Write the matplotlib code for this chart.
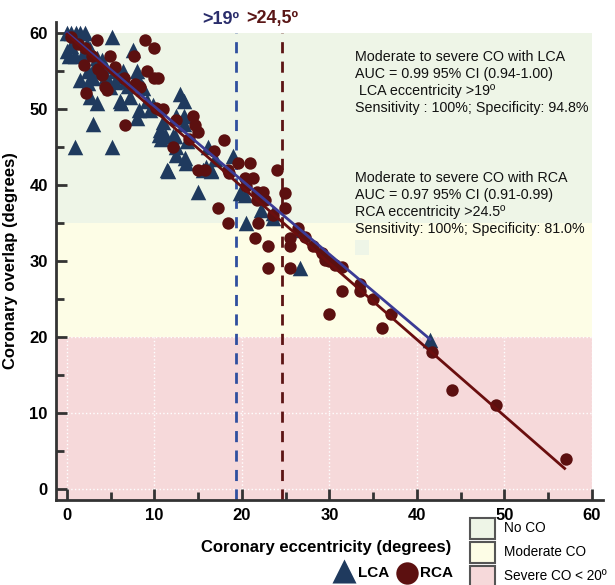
import matplotlib
matplotlib.use("Agg")
import matplotlib.pyplot as plt
from matplotlib.patches import Rectangle

plt.rcParams['font.family'] = ['Liberation Sans', 'DejaVu Sans']

# LCA points (eccentricity, overlap)
lca_x = [0, 0.5, 1.0, 1.5, 2.0, 1.2, 0, 0.4, 0.2, 0.9, 2.3, 2.6, 1.8,
         1.5, 0.9, 3.0, 5.1, 5.1, 7.5, 3.4, 4.0, 4.1, 3.2, 2.4, 3.8, 3.0,
         2.4, 2.6, 3.4, 4.5, 4.9, 5.5, 6.1, 6.4, 6.6, 7.2, 6.1, 8.0, 8.2,
         8.7, 9.1, 8.2, 8.0, 9.5, 10.6, 11.2, 10.5, 10.8, 12.1, 12.5, 13.5,
         13.6, 11.6, 15.0, 16.1, 15.6, 16.5, 16.9, 15.9, 19.0, 19.8, 20.5,
         23.6, 26.6, 26.6, 12.9, 13.4, 12.5, 13.4, 13.4, 12.3, 12.5, 16.5,
         20.3, 22.2, 23.5, 41.5, 11.0, 7.0, 5.5, 9.8, 6.2, 13.7, 11.4]
lca_y = [60, 60, 60, 60, 60, 59.3, 57.6, 58.3, 57.0, 56.9, 58.4, 57.8, 57.2,
         53.8, 45.0, 48.0, 45.0, 59.4, 57.7, 56.7, 56.4, 55.6, 55.6, 54.9, 54.9, 54.0,
         53.4, 51.6, 50.8, 54.3, 52.9, 54.9, 54.3, 54.9, 53.6, 51.6, 51.0, 54.9, 53.6,
         52.7, 51.0, 49.9, 48.8, 49.9, 47.2, 46.6, 46.6, 46.0, 46.4, 45.0, 43.5,
         42.9, 41.8, 39.0, 45.0, 42.0, 42.0, 43.4, 42.4, 43.8, 38.9, 35.0,
         36.3, 34.0, 29.0, 52.0, 51.0, 49.0, 49.0, 48.0, 46.4, 43.9, 41.8,
         38.7, 36.7, 35.6, 19.6, 48.3, 53.0, 53.5, 50.5, 50.8, 45.7, 42.0]

# RCA points (eccentricity, overlap)
rca_x = [0.5, 1.2, 2.0, 2.8, 3.4, 8.9, 10.0, 4.9, 7.6, 1.9, 9.1, 10.0, 10.4,
         2.2, 4.3, 4.6, 6.6, 7.8, 8.3, 10.2, 10.6, 11.0, 4.0, 3.5, 12.1,
         14.4, 14.6, 15.0, 17.9, 15.0, 15.8, 18.4, 19.6, 20.9, 20.3, 21.3,
         20.5, 21.7, 22.4, 21.7, 22.6, 24.0, 24.9, 24.9, 17.3, 18.4, 21.8,
         21.5, 23.0, 23.0, 25.5, 25.5, 25.5, 26.4, 27.2, 28.1, 29.1, 29.5,
         30.0, 30.6, 31.4, 31.4, 30.0, 33.5, 33.5, 35.0, 36.0, 37.0, 41.7,
         44.0, 49.1, 57.1, 16.8, 14.0, 6.5, 5.5, 12.5, 23.5, 18.5]
rca_y = [59.5, 58.5, 58.0, 57.0, 59.1, 59.1, 58.0, 56.9, 56.9, 55.8, 54.9, 54.1, 54.1,
         52.1, 52.9, 52.5, 47.9, 53.2, 52.9, 50.1, 49.8, 50.0, 54.5, 55.2, 45.0,
         49.0, 47.9, 47.0, 45.9, 42.0, 42.0, 42.0, 42.9, 42.9, 40.9, 40.9,
         39.8, 39.1, 39.1, 38.0, 38.0, 42.0, 38.9, 37.0, 37.0, 35.0, 35.0,
         33.0, 31.9, 29.0, 33.0, 31.9, 29.0, 34.3, 33.2, 31.9, 31.0, 30.1,
         30.0, 29.5, 29.2, 26.0, 23.0, 27.0, 26.0, 25.0, 21.2, 23.0, 18.0,
         13.0, 11.0, 4.0, 44.5, 46.0, 54.0, 55.5, 48.5, 36.0, 41.5]

# regression lines (end points)
lca_fit_x = [0, 41.5]
lca_fit_y = [60, 19.7]
rca_fit_x = [0, 56.9]
rca_fit_y = [59.8, 2.7]

# cut-off values
lca_cut = 19.3
rca_cut = 24.6

# overlap bands
band_edges = [-1.45, 20, 35, 60]
band_colors = ['#f6d9da', '#fdfde6', '#eef5e7']
band_names = ['Severe CO < 20º', 'Moderate CO', 'No CO']

lca_text = ["Moderate to severe CO with LCA",
            "AUC = 0.99 95% CI (0.94-1.00)",
            " LCA eccentricity >19º",
            "Sensitivity : 100%; Specificity: 94.8%"]
rca_text = ["Moderate to severe CO with RCA",
            "AUC = 0.97 95% CI (0.91-0.99)",
            "RCA eccentricity >24.5º",
            "Sensitivity: 100%; Specificity: 81.0%"]

tri_color = '#1f3a5e'
dot_color = '#5c1010'

fig = plt.figure(figsize=(6.15, 5.85), dpi=100)
ax = fig.add_axes([0.0911, 0.1453, 0.889, 0.817])
ax.set_xlim(-1.26, 61.26)
ax.set_ylim(-1.45, 61.4)

for i in range(3):
    ax.axhspan(band_edges[i], band_edges[i + 1], xmin=0, xmax=(60 + 1.26) / 62.52,
               color=band_colors[i], lw=0, zorder=0)

# faint dotted grid (only shows on the pink band in the original)
for gx in range(0, 61, 10):
    ax.plot([gx, gx], [-1.45, 20], color='white', ls=':', lw=1, zorder=0.5)
for gy in range(0, 21, 10):
    ax.plot([-1.26, 60], [gy, gy], color='white', ls=':', lw=1, zorder=0.5)

ax.add_patch(Rectangle((32.9, 30.8), 1.6, 2.0, color='#eef5e7', lw=0, zorder=0.6))

ax.plot([lca_cut, lca_cut], [-1.45, 60], color='#2f4f9f', ls=(0, (4, 3)), lw=2, zorder=1)
ax.plot([rca_cut, rca_cut], [-1.45, 60], color='#5c1414', ls=(0, (4, 3)), lw=2, zorder=1)

ax.scatter(lca_x, lca_y, marker='^', s=125, color=tri_color, lw=0, zorder=2)
ax.scatter(rca_x, rca_y, marker='o', s=80, color=dot_color, lw=0, zorder=3)

ax.plot(lca_fit_x, lca_fit_y, color='#3b3b95', lw=2, zorder=4)
ax.plot(rca_fit_x, rca_fit_y, color='#6a0e0e', lw=2, zorder=5)

for k, line in enumerate(lca_text):
    ax.text(32.9, 56.8 - 2.24 * k, line, fontsize=10.3, va='center', ha='left', color='#111111')
for k, line in enumerate(rca_text):
    ax.text(32.9, 40.9 - 2.24 * k, line, fontsize=10.3, va='center', ha='left', color='#111111')

ax.set_xticks(range(0, 61, 10))
ax.set_yticks(range(0, 61, 10))
ax.set_xticks(range(5, 60, 10), minor=True)
ax.set_yticks(range(5, 60, 10), minor=True)
ax.tick_params(which='major', direction='in', length=8, width=2, color='#333333',
               labelsize=12, pad=6)
ax.tick_params(which='minor', direction='in', length=6, width=2, color='#333333')
for lab in ax.get_xticklabels() + ax.get_yticklabels():
    lab.set_fontweight('bold')
for s in ['top', 'right']:
    ax.spines[s].set_visible(False)
for s in ['left', 'bottom']:
    ax.spines[s].set_linewidth(2)
    ax.spines[s].set_color('#333333')

ax.set_xlabel('Coronary eccentricity (degrees)', fontsize=12, fontweight='bold')
ax.set_ylabel('Coronary overlap (degrees)', fontsize=12, fontweight='bold')
ax.xaxis.set_label_coords(0.494, -0.084)
ax.yaxis.set_label_coords(-0.069, 0.5)

# overlay in pixel coordinates for the outside annotations
ov = fig.add_axes([0, 0, 1, 1], zorder=10)
ov.set_xlim(0, 615)
ov.set_ylim(585, 0)
ov.axis('off')
ov.patch.set_alpha(0)

ov.text(221, 19, '>19º', fontsize=13, fontweight='bold', color='#2a2d6b', ha='center', va='center')
ov.text(272, 19, '>24,5º', fontsize=13, fontweight='bold', color='#5a1616', ha='center', va='center')

ov.scatter([344], [571], marker='^', s=300, color=tri_color, lw=0)
ov.text(358, 573, 'LCA', fontsize=11, fontweight='bold', va='center', ha='left')
ov.scatter([407], [573], marker='o', s=260, color=dot_color, lw=0)
ov.text(420, 573, 'RCA', fontsize=11, fontweight='bold', va='center', ha='left')

legend_rows = [518, 542, 566]
for k, name in enumerate(band_names[::-1]):
    ov.add_patch(Rectangle((470, legend_rows[k]), 25, 21, facecolor=band_colors[::-1][k],
                           edgecolor='#555555', lw=1.5))
    ov.text(504, legend_rows[k] + 10, name, fontsize=9.8, va='center', ha='left')

fig.savefig('out.png', dpi=100)
